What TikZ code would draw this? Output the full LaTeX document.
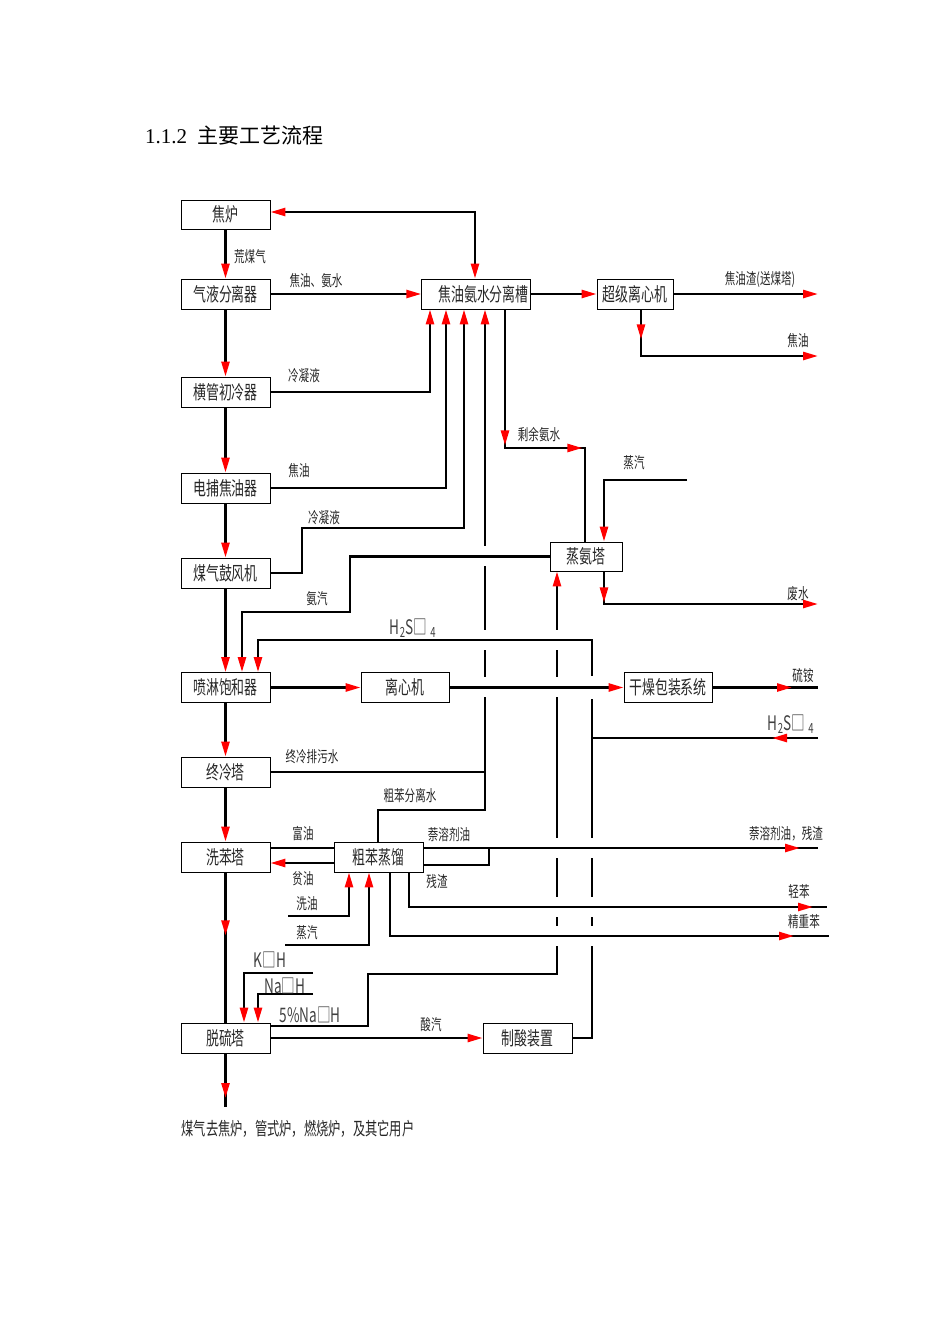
\documentclass[tikz,border=0pt]{standalone}
\usepackage{fontspec}
\setmainfont{Liberation Serif}
\newfontfamily\cjk[FakeStretch=0.68]{Noto Sans CJK SC}
\newfontfamily\titlecjk{Noto Sans CJK SC}
\usetikzlibrary{arrows.meta,decorations.markings}

\tikzset{
  pipe/.style={line width=2.5pt},
  box/.style={draw,line width=0.8pt,minimum width=89pt,minimum height=30pt,inner sep=0pt,
    font=\cjk\fontsize{19}{19}\selectfont,text=black!85},
  lbl/.style={font=\cjk\fontsize{15.5}{15.5}\selectfont,text=black!85,inner sep=0pt},
  chem/.style={font=\cjk\fontsize{20}{20}\selectfont,text=black!75,inner sep=0pt},
  tipat/.style={postaction={decorate,decoration={markings,mark=at position #1 with {\arrow{>}}}}},
  >={Triangle[color=red,length=15pt,width=8pt]}
}

\begin{document}
\begin{tikzpicture}[x=1pt,y=-1pt]
\useasboundingbox (0,0) rectangle (950,1344);

\node[anchor=west,inner sep=0pt,font=\fontsize{21}{21}\selectfont] (title) at (145,136) {1.1.2\ \ {\titlecjk 主要工艺流程}};

% main column
\node[box,minimum height=29pt] (oven) at (225.5,214.5) {焦炉};
\node[box] (gls) at (225.5,294) {气液分离器};
\node[box] (pcool) at (225.5,392) {横管初冷器};
\node[box] (etar) at (225.5,488) {电捕焦油器};
\node[box] (blower) at (225.5,573) {煤气鼓风机};
\node[box] (satur) at (225.5,687.5) {喷淋饱和器};
\node[box] (fcool) at (225.5,772) {终冷塔};
\node[box] (wash) at (225.5,857) {洗苯塔};
\node[box] (desulf) at (225.5,1038) {脱硫塔};
% other units
\node[box,minimum width=0pt,text width=105pt,inner xsep=2pt,align=right] (tank) at (476.2,294) {焦油氨水分离槽};
\node[box,minimum width=76pt] (centri) at (635,294) {超级离心机};
\node[box,minimum width=72pt,minimum height=29pt] (still) at (586,556.5) {蒸氨塔};
\node[box,minimum width=88pt] (cent) at (405,687.5) {离心机};
\node[box,minimum width=88pt] (dryer) at (668,687.5) {干燥包装系统};
\node[box] (crude) at (378.5,857) {粗苯蒸馏};
\node[box] (acid) at (527.5,1038) {制酸装置};

% gas line
\draw[pipe,->] (oven.south) -- (gls.north);
\draw[pipe,->] (gls.south) -- (pcool.north);
\draw[pipe,->] (pcool.south) -- (etar.north);
\draw[pipe,->] (etar.south) -- (blower.north);
\draw[pipe,->] (blower.south) -- (satur.north);
\draw[pipe,->] (satur.south) -- (fcool.north);
\draw[pipe,->] (fcool.south) -- (wash.north);
\draw[pipe,tipat=63pt] (wash.south) -- (desulf.north);
\coordinate (gasout) at (225.5,1107);
\draw[pipe,tipat=-9pt] (desulf.south) -- (gasout);

% tar and ammonia water
\draw[pipe,<->] (tank.north -| 475,0) |- (oven.east |- 0,212);
\draw[pipe,->] (gls.east) -- (tank.west);
\draw[pipe,->] (tank.east) -- (centri.west);
\coordinate (tarres) at (818,294);
\draw[pipe,->] (centri.east) -- (tarres);
\coordinate (tarout) at (818,356);
\draw[pipe,->,tipat=30pt] (centri.south -| 641,0) |- (tarout);
\draw[pipe,->] (pcool.east) -| (tank.south -| 430,0);
\draw[pipe,->] (etar.east) -| (tank.south -| 446,0);
\draw[pipe,->] (blower.east) -| (302,528) -| (tank.south -| 464,0);
\draw[pipe,tipat=136pt,tipat=216pt] (tank.south -| 505,0) |- (585,448) -- (still.north -| 585,0);
\coordinate (steamA) at (687,480);
\draw[pipe,->] (steamA) -| (still.north -| 604,0);
\coordinate (waste) at (818,604);
\draw[pipe,->,tipat=31pt] (still.south -| 604,0) |- (waste);

% long risers (broken where lines cross)
\draw[pipe,->] (crude.north -| 378,0) |- (485,810) -- (tank.south -| 485,0);
\draw[pipe] (fcool.east) -- (fcool.east -| 485,0);
\draw[pipe,->] (desulf.east |- 0,1026) -| (368,974) -| (still.south -| 557,0);
\draw[pipe] (acid.east) -| (592,738);
\foreach \cx/\cy in {485/556,485/640,485/687,557/640,557/687,557/848,557/907,557/936,592/848,592/907,592/936}
  \fill[white] (\cx-4,\cy-10) rectangle (\cx+4,\cy+10);
\coordinate (acidin) at (818,738);
\draw[pipe,->,tipat=46pt] (acidin) -| (592,640) -| (satur.north -| 258,0);
\fill[white] (588,676) rectangle (596,699);

% saturator
\draw[pipe,->] (still.west) -| (350,612) -| (satur.north -| 242,0);
\draw[pipe,->] (satur.east) -- (cent.west);
\draw[pipe,->] (cent.east) -- (dryer.west);
\coordinate (amsul) at (818,687.5);
\draw[pipe,tipat=-26pt] (dryer.east) -- (amsul);

% benzene
\draw[pipe] (wash.east |- 0,848) -- (crude.west |- 0,848);
\draw[pipe,->] (crude.west |- 0,863) -- (wash.east |- 0,863);
\coordinate (washoil) at (288,916);
\draw[pipe,->] (washoil) -| (crude.south -| 349,0);
\coordinate (steamB) at (285,945);
\draw[pipe,->] (steamB) -| (crude.south -| 369,0);
\coordinate (naph) at (818,848);
\draw[pipe,tipat=-18pt] (crude.east |- 0,848) -- (naph);
\draw[pipe] (crude.east |- 0,865) -| (489,848);
\coordinate (ltbz) at (827,907);
\draw[pipe,tipat=-14pt] (crude.south -| 409,0) |- (ltbz);
\coordinate (hvbz) at (829,936);
\draw[pipe,tipat=-35pt] (crude.south -| 390,0) |- (hvbz);

% desulfurization
\coordinate (koh) at (313,973);
\draw[pipe,->] (koh) -| (desulf.north -| 244,0);
\coordinate (naoh) at (313,994);
\draw[pipe,->] (naoh) -| (desulf.north -| 258,0);
\draw[pipe,->] (desulf.east) -- (acid.west);

% labels
\node[lbl] (lraw) at (250,257) {荒煤气};
\node[lbl] (ltarw) at (316,281) {焦油、氨水};
\node[lbl] (lcondA) at (304,376) {冷凝液};
\node[lbl] (lres) at (760,279) {焦油渣(送煤塔)};
\node[lbl] (ltarR) at (798,341) {焦油};
\node[lbl] (ltarE) at (299,471) {焦油};
\node[lbl] (lcondB) at (324,518) {冷凝液};
\node[lbl] (lamv) at (317,599) {氨汽};
\node[chem] (lacidA) at (413,628) {H\textsubscript{2}S□\ \textsubscript{4}};
\node[lbl] (lrem) at (539,435) {剩余氨水};
\node[lbl] (lsteamA) at (634,463) {蒸汽};
\node[lbl] (lwaste) at (798,594) {废水};
\node[lbl] (lamsul) at (803,676) {硫铵};
\node[chem] (lacidB) at (791,724) {H\textsubscript{2}S□\ \textsubscript{4}};
\node[lbl] (lfcw) at (312,757) {终冷排污水};
\node[lbl] (lsepw) at (410,796) {粗苯分离水};
\node[lbl] (lrich) at (303,834) {富油};
\node[lbl] (lnapA) at (449,835) {萘溶剂油};
\node[lbl] (lnapB) at (786,834) {萘溶剂油，残渣};
\node[lbl] (llean) at (303,879) {贫油};
\node[lbl] (lresA) at (437,882) {残渣};
\node[lbl] (lwoil) at (307,904) {洗油};
\node[lbl] (lsteamB) at (307,933) {蒸汽};
\node[lbl] (lltbz) at (799,892) {轻苯};
\node[lbl] (lhvbz) at (804,922) {精重苯};
\node[chem] (lkoh) at (270,960) {K□H};
\node[chem] (lnaoh) at (285,986) {Na□H};
\node[chem] (lnaoh5) at (310,1015) {5\%Na□H};
\node[lbl] (lacg) at (431,1025) {酸汽};
\node[lbl,font=\cjk\fontsize{18}{18}\selectfont] (lgas) at (298,1129) {煤气去焦炉，管式炉，燃烧炉，及其它用户};
\end{tikzpicture}
\end{document}
